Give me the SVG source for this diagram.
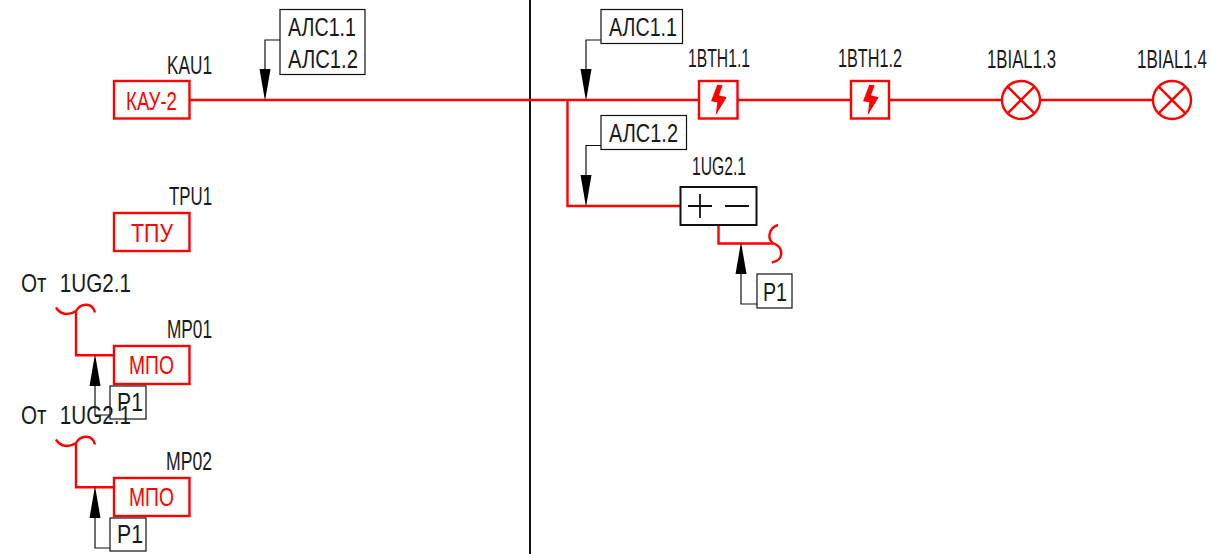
<svg xmlns="http://www.w3.org/2000/svg" xmlns:xlink="http://www.w3.org/1999/xlink" width="1211" height="554" viewBox="0 0 1211 554">
<style>
text{font-family:"Liberation Sans Narrow","Liberation Sans",sans-serif;font-size:25px;fill:#1a1a1a}
text.r{fill:#f00}
text.from{word-spacing:9px}
.box{fill:#fff;stroke:#f00;stroke-width:2.4}
.w{fill:none;stroke:#f00;stroke-width:2.4}
.tag{fill:#fff;stroke:#111;stroke-width:1.2}
.lead{fill:none;stroke:#111;stroke-width:1.2}
.blk{fill:none;stroke:#111;stroke-width:2}
.tip{fill:#000;stroke:none}
.bolt{fill:#f00;stroke:none}
</style>
<defs>
<polygon id="down" class="tip" points="-5.5,-31 5.5,-31 0,1"/>
<polygon id="up" class="tip" points="-5.5,31 5.5,31 0,-1"/>
<path id="wave" class="w" d="M56 307.500C60 314 68 316.500 76 311C80 304 92 301 95 312.500"/>
<polygon id="bolt" class="bolt" points="717.300,84.700 722.700,85.300 719,95.300 726.700,97.300 715.700,115.300 717.300,102.300 711,101.300"/>
</defs>
<g id="divider"><path class="blk" d="M530 0V554"/></g>
<g id="connectors">
<path class="w" d="M190 100H699M738 100H851M889 100H1002M1040 100H1153"/>
<path class="w" d="M567.500 100V206H680"/>
<path class="w" d="M718.500 225V243.500H774"/>
<path class="w" d="M778 225C768 228 767 240 774 243.500C784 248 784 260 772 262.500"/>
<path class="w" d="M114 355.300H76V311"/>
<use xlink:href="#wave"/>
<path class="w" d="M114 487.300H76V443"/>
<use xlink:href="#wave" y="132"/>
<path class="lead" d="M280 40H265V70"/><use xlink:href="#down" x="265" y="100"/>
<path class="lead" d="M601 40H586V70"/><use xlink:href="#down" x="586" y="100"/>
<path class="lead" d="M601 145.500H586V175"/><use xlink:href="#down" x="586" y="206"/>
<path class="lead" d="M757 304H741V274"/><use xlink:href="#up" x="741" y="243"/>
<path class="lead" d="M110 415H95V385"/><use xlink:href="#up" x="95" y="355"/>
<path class="lead" d="M110 548H95V518"/><use xlink:href="#up" x="95" y="487"/>
</g>
<g id="KAU1">
<rect class="box" x="114" y="81" width="75.500" height="37.500"/>
<text class="r" x="126" y="110" textLength="51" lengthAdjust="spacingAndGlyphs">КАУ-2</text>
<text x="167" y="74" textLength="45" lengthAdjust="spacingAndGlyphs">KAU1</text>
</g>
<g id="tag-left">
<rect class="tag" x="280" y="9.500" width="85" height="65"/>
<text x="288" y="36" textLength="68" lengthAdjust="spacingAndGlyphs">АЛС1.1</text>
<text x="288" y="68" textLength="70" lengthAdjust="spacingAndGlyphs">АЛС1.2</text>
</g>
<g id="TPU1">
<rect class="box" x="114" y="213" width="75.500" height="38"/>
<text class="r" x="131" y="242" textLength="42" lengthAdjust="spacingAndGlyphs">ТПУ</text>
<text x="169" y="205" textLength="43" lengthAdjust="spacingAndGlyphs">TPU1</text>
</g>
<g id="MP01">
<text class="from" x="21" y="292" textLength="110" lengthAdjust="spacingAndGlyphs">От 1UG2.1</text>
<rect class="box" x="114" y="346" width="75.500" height="38"/>
<text class="r" x="129" y="374" textLength="45" lengthAdjust="spacingAndGlyphs">МПО</text>
<text x="167" y="338" textLength="45" lengthAdjust="spacingAndGlyphs">MP01</text>
<rect class="tag" x="110" y="386" width="36" height="33" style="fill:none"/>
<text x="117" y="411" textLength="26" lengthAdjust="spacingAndGlyphs">P1</text>
</g>
<g id="MP02">
<text class="from" x="21" y="424" textLength="110" lengthAdjust="spacingAndGlyphs">От 1UG2.1</text>
<rect class="box" x="114" y="478" width="75.500" height="38"/>
<text class="r" x="129" y="506" textLength="45" lengthAdjust="spacingAndGlyphs">МПО</text>
<text x="166" y="470" textLength="46" lengthAdjust="spacingAndGlyphs">MP02</text>
<rect class="tag" x="110" y="518" width="36" height="33"/>
<text x="117" y="543" textLength="26" lengthAdjust="spacingAndGlyphs">P1</text>
</g>
<g id="tag-right-1">
<rect class="tag" x="601" y="9.500" width="81.500" height="34"/>
<text x="609" y="36" textLength="68" lengthAdjust="spacingAndGlyphs">АЛС1.1</text>
</g>
<g id="tag-right-2">
<rect class="tag" x="601" y="115.500" width="85.500" height="34"/>
<text x="609" y="142" textLength="69" lengthAdjust="spacingAndGlyphs">АЛС1.2</text>
</g>
<g id="BTH1.1">
<rect class="box" x="699" y="81" width="38.500" height="37.500"/>
<use xlink:href="#bolt"/>
<text x="688" y="67" textLength="62" lengthAdjust="spacingAndGlyphs">1BTH1.1</text>
</g>
<g id="BTH1.2">
<rect class="box" x="851" y="81" width="38" height="37.500"/>
<use xlink:href="#bolt" x="152"/>
<text x="838" y="67" textLength="64" lengthAdjust="spacingAndGlyphs">1BTH1.2</text>
</g>
<g id="BIAL1.3">
<circle class="w" cx="1021" cy="100" r="19"/>
<path class="w" d="M1007.600 86.600L1034.400 113.400M1007.600 113.400L1034.400 86.600"/>
<text x="987" y="68" textLength="69" lengthAdjust="spacingAndGlyphs">1BIAL1.3</text>
</g>
<g id="BIAL1.4">
<circle class="w" cx="1172" cy="100" r="19"/>
<path class="w" d="M1158.600 86.600L1185.400 113.400M1158.600 113.400L1185.400 86.600"/>
<text x="1137" y="68" textLength="70" lengthAdjust="spacingAndGlyphs">1BIAL1.4</text>
</g>
<g id="UG2.1">
<rect x="680.500" y="187" width="76" height="38" fill="#fff" stroke="#111" stroke-width="2"/>
<path fill="none" stroke="#111" stroke-width="1.800" d="M688 206H712M700 194V218M725 206H749"/>
<text x="692" y="175" textLength="54" lengthAdjust="spacingAndGlyphs">1UG2.1</text>
<rect class="tag" x="757" y="274" width="35" height="34"/>
<text x="763" y="301" textLength="24" lengthAdjust="spacingAndGlyphs">P1</text>
</g>
</svg>
